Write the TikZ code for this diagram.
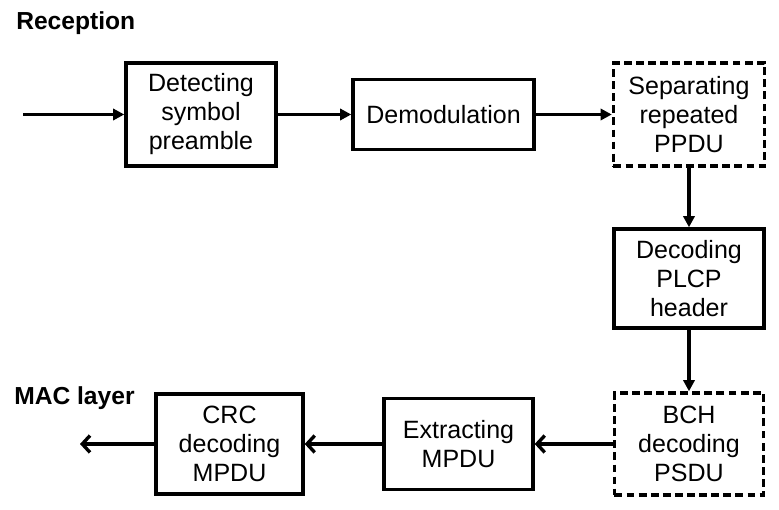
\documentclass[tikz,border=0pt]{standalone}
\usepackage{fontspec}
\setmainfont{Liberation Sans}
\usetikzlibrary{arrows.meta}

\tikzset{
  block/.style={draw, line width=2.4pt, align=center, inner sep=2pt,
    font=\fontsize{17.8}{20.6}\selectfont},
  dashblock/.style={block, dash pattern=on 5.6pt off 3pt},
  fwd/.style={line width=2.4pt, -{Triangle[length=8pt,width=8pt]}},
  back/.style={line width=2.4pt, -{Straight Barb[length=5.5pt,width=12pt]}},
  heading/.style={font=\fontsize{17.5}{20}\selectfont\bfseries, anchor=west, inner sep=0pt}
}

\begin{document}
\begin{tikzpicture}[x=0.025cm, y=-0.025cm]
  \useasboundingbox (0,0) rectangle (779,510);

  % headings
  \node[heading] (rx) at (16,23) {Reception};
  \node[heading] (mac) at (14,398) {MAC layer};

  % receive chain, top row
  \node[block, minimum width=3.75cm, minimum height=2.575cm] (detect) at (201,114.5) {Detecting\\symbol\\preamble};
  \node[block, minimum width=4.525cm, minimum height=1.75cm] (demod) at (443.5,114.5) {Demodulation};
  \node[dashblock, minimum width=3.775cm, minimum height=2.575cm] (sep) at (689,114.5) {Separating\\repeated\\PPDU};

  % right column
  \node[block, minimum width=3.75cm, minimum height=2.475cm] (plcp) at (689,278.5) {Decoding\\PLCP\\header};

  % bottom row
  \node[dashblock, minimum width=3.725cm, minimum height=2.55cm] (bch) at (689,444) {BCH\\decoding\\PSDU};
  \node[block, minimum width=3.725cm, minimum height=2.275cm] (extract) at (458.5,444) {Extracting\\MPDU};
  \node[block, minimum width=3.675cm, minimum height=2.5cm] (crc) at (229.5,444) {CRC\\decoding\\MPDU};

  \coordinate (in) at (23,114.5);
  \coordinate (out) at (80,444);

  \draw[fwd] (in) -- (detect);
  \draw[fwd] (detect) -- (demod);
  \draw[fwd] (demod) -- (sep);
  \draw[fwd] (sep) -- (plcp);
  \draw[fwd] (plcp) -- (bch);
  \draw[back] (bch) -- (extract);
  \draw[back] (extract) -- (crc);
  \draw[back] (crc) -- (out);
\end{tikzpicture}
\end{document}
